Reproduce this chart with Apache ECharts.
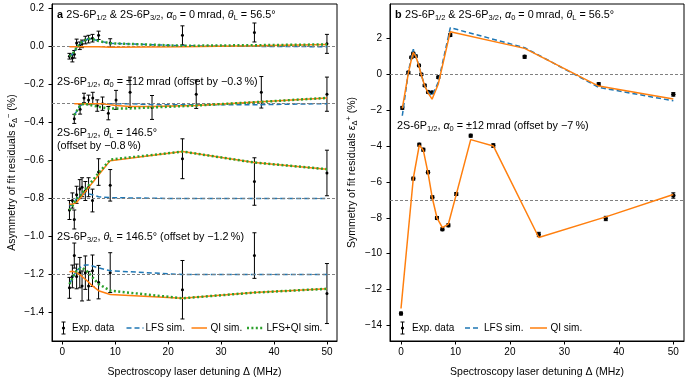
<!DOCTYPE html>
<html>
<head>
<meta charset="utf-8">
<script src="https://cdn.jsdelivr.net/npm/echarts@6/dist/echarts.min.js"></script>
<style>
html, body { margin: 0; padding: 0; background: #fff; }
#chart { width: 689px; height: 383px; }
</style>
</head>
<body>
<div id="chart"></div>
<script>
// detunings (MHz)
var detA = [1.35, 1.9, 2.26, 2.7, 3.3, 3.73, 4.35, 4.96, 5.7, 6.85, 9.05, 22.7, 36.3, 50];
var detA12 = [2.26, 3.36, 4.1, 4.96, 5.75, 6.6, 7.6, 8.7, 10.15, 12.8, 16.95, 25.3, 37.6, 50];
var detB0 = [0.24, 1.35, 1.9, 2.26, 2.7, 3.3, 3.73, 4.35, 4.96, 5.7, 6.85, 9.05, 22.7, 36.3, 50];
var detB12 = [0, 2.26, 3.36, 4.1, 4.96, 5.75, 6.6, 7.6, 8.7, 10.15, 12.8, 16.95, 25.3, 37.6, 50];

// panel a, alpha0 = 0 mrad
var a1Exp = [-0.05, -0.06, -0.04, 0.02, 0.005, 0.015, 0.035, 0.04, 0.045, 0.06, 0.02, 0.06, 0.075, 0.015];
var a1Err = [0.015, 0.02, 0.02, 0.02, 0.02, 0.02, 0.02, 0.02, 0.02, 0.022, 0.022, 0.05, 0.05, 0.05];
var a1Lfs = [-0.05, -0.04, -0.025, -0.005, 0.015, 0.025, 0.035, 0.042, 0.04, 0.03, 0.018, 0.005, 0.002, 0.0];
var a1Qi = [0.0, 0.0, 0.0, 0.0, 0.0, 0.0, 0.0, 0.0, 0.0, 0.0, -0.003, 0.0, 0.005, 0.012];
var a1Both = [-0.05, -0.04, -0.025, -0.005, 0.015, 0.025, 0.035, 0.042, 0.04, 0.03, 0.018, 0.005, 0.008, 0.012];

// panel a, alpha0 = +-12 mrad (offset -0.3 %)
var a2Exp = [-0.38, -0.33, -0.27, -0.28, -0.27, -0.31, -0.30, -0.35, -0.28, -0.24, -0.32, -0.25, -0.24, -0.25];
var a2Err = [0.024, 0.025, 0.025, 0.025, 0.03, 0.03, 0.035, 0.035, 0.05, 0.08, 0.063, 0.075, 0.083, 0.09];
var a2Lfs = [-0.36, -0.31, -0.30, -0.30, -0.30, -0.30, -0.30, -0.30, -0.30, -0.30, -0.305, -0.305, -0.305, -0.30];
var a2Qi = [-0.30, -0.30, -0.30, -0.30, -0.30, -0.30, -0.30, -0.305, -0.31, -0.315, -0.315, -0.31, -0.29, -0.27];
var a2Both = [-0.36, -0.31, -0.30, -0.305, -0.31, -0.315, -0.32, -0.325, -0.325, -0.325, -0.32, -0.31, -0.29, -0.27];

// panel a, 2S-6P1/2 theta 146.5 (offset -0.8 %)
var a3Exp = [-0.86, -0.81, -0.91, -0.78, -0.75, -0.74, -0.76, -0.74, -0.81, -0.66, -0.73, -0.59, -0.71, -0.665];
var a3Err = [0.05, 0.04, 0.05, 0.045, 0.05, 0.05, 0.05, 0.05, 0.06, 0.07, 0.083, 0.105, 0.125, 0.12];
var a3Lfs = [-0.84, -0.83, -0.82, -0.80, -0.785, -0.78, -0.775, -0.775, -0.78, -0.79, -0.795, -0.80, -0.80, -0.80];
var a3Qi = [-0.83, -0.83, -0.83, -0.82, -0.80, -0.785, -0.763, -0.742, -0.716, -0.676, -0.60, -0.552, -0.61, -0.645];
var a3Both = [-0.86, -0.84, -0.82, -0.80, -0.785, -0.77, -0.75, -0.73, -0.705, -0.665, -0.595, -0.552, -0.61, -0.645];

// panel a, 2S-6P3/2 theta 146.5 (offset -1.2 %)
var a4Exp = [-1.27, -1.21, -1.10, -1.21, -1.19, -1.26, -1.19, -1.26, -1.18, -1.24, -1.19, -1.28, -1.10, -1.30];
var a4Err = [0.055, 0.06, 0.066, 0.065, 0.08, 0.079, 0.088, 0.075, 0.083, 0.088, 0.105, 0.154, 0.12, 0.158];
var a4Lfs = [-1.25, -1.22, -1.20, -1.18, -1.165, -1.155, -1.15, -1.15, -1.155, -1.165, -1.18, -1.20, -1.20, -1.20];
var a4Qi = [-1.185, -1.183, -1.185, -1.19, -1.20, -1.21, -1.225, -1.24, -1.26, -1.285, -1.305, -1.325, -1.295, -1.275];
var a4Both = [-1.25, -1.22, -1.20, -1.18, -1.17, -1.165, -1.175, -1.19, -1.215, -1.25, -1.285, -1.325, -1.295, -1.275];

// panel b
var b0Exp = [-1.88, 0.09, 0.93, 1.15, 1.0, 0.48, -0.02, -0.63, -1.0, -1.02, -0.18, 2.17, 0.96, -0.56, -1.13];
var b0Err = [0.08, 0.06, 0.06, 0.06, 0.06, 0.06, 0.06, 0.06, 0.06, 0.06, 0.06, 0.08, 0.08, 0.08, 0.1];
var b0Lfs = [-2.32, 0.1, 0.95, 1.38, 1.05, 0.45, -0.05, -0.65, -1.0, -1.2, -0.45, 2.58, 1.47, -0.74, -1.49];
var b0Qi = [-1.91, 0.05, 0.8, 1.2, 1.0, 0.45, -0.05, -0.65, -1.05, -1.4, -0.55, 2.36, 1.43, -0.67, -1.39];
var b12Exp = [-13.33, -5.82, -3.93, -4.21, -5.47, -6.86, -8.01, -8.64, -8.42, -6.68, -3.43, -3.98, -8.93, -8.04, -6.76];
var b12Err = [0.08, 0.08, 0.08, 0.08, 0.08, 0.08, 0.08, 0.08, 0.08, 0.08, 0.08, 0.1, 0.12, 0.12, 0.15];
var b12Qi = [-13.05, -5.8, -3.95, -4.25, -5.5, -6.9, -8.0, -8.55, -8.35, -6.7, -3.65, -4.0, -9.1, -7.95, -6.7];

var refA = [0, -0.3, -0.8, -1.2];
var refB = [0, -7];
var ticksX = [0, 10, 20, 30, 40, 50];
var ticksA = [-1.4, -1.2, -1.0, -0.8, -0.6, -0.4, -0.2, 0.0, 0.2];
var ticksB = [-14, -12, -10, -8, -6, -4, -2, 0, 2];

var FONT = 'Liberation Sans, Arial, sans-serif';
var BLUE = '#1f77b4', ORANGE = '#ff7f0e', GREEN = '#2ca02c';

var chart = echarts.init(document.getElementById('chart'));

function pairs(xs, ys) {
    return xs.map(function (x, i) { return [x, ys[i]]; });
}

function errorBars(xs, ys, errs, gi, r) {
    return {
        type: 'custom',
        xAxisIndex: gi,
        yAxisIndex: gi,
        z: 3,
        silent: true,
        data: xs.map(function (x, i) { return [x, ys[i] - errs[i], ys[i] + errs[i], ys[i]]; }),
        encode: { x: 0, y: [1, 2] },
        renderItem: function (params, api) {
            var lo = api.coord([api.value(0), api.value(1)]);
            var hi = api.coord([api.value(0), api.value(2)]);
            var mid = api.coord([api.value(0), api.value(3)]);
            var st = { stroke: '#000', lineWidth: 1 };
            return {
                type: 'group',
                children: [
                    { type: 'line', shape: { x1: lo[0], y1: lo[1], x2: hi[0], y2: hi[1] }, style: st },
                    { type: 'line', shape: { x1: lo[0] - 2, y1: lo[1], x2: lo[0] + 2, y2: lo[1] }, style: st },
                    { type: 'line', shape: { x1: hi[0] - 2, y1: hi[1], x2: hi[0] + 2, y2: hi[1] }, style: st },
                    { type: 'circle', shape: { cx: mid[0], cy: mid[1], r: r }, style: { fill: '#000' } }
                ]
            };
        }
    };
}

function simLine(xs, ys, kind, gi) {
    var ls;
    if (kind === 'lfs') ls = { color: BLUE, width: 1.5, type: [5, 3] };
    else if (kind === 'qi') ls = { color: ORANGE, width: 1.5, type: 'solid' };
    else ls = { color: GREEN, width: 2.5, type: [2, 2.4] };
    return {
        type: 'line',
        xAxisIndex: gi,
        yAxisIndex: gi,
        data: pairs(xs, ys),
        symbol: 'none',
        silent: true,
        z: kind === 'lfs' ? 4 : (kind === 'qi' ? 5 : 6),
        lineStyle: ls
    };
}

function refLines(vals, gi) {
    return {
        type: 'line',
        xAxisIndex: gi,
        yAxisIndex: gi,
        data: [],
        z: 1,
        markLine: {
            silent: true,
            symbol: ['none', 'none'],
            animation: false,
            label: { show: false },
            lineStyle: { color: '#808080', type: [3, 2], width: 1 },
            data: vals.map(function (v) { return { yAxis: v }; })
        }
    };
}

var FS = 10.8;
var rich = {
    n: { fontFamily: FONT, fontSize: FS, color: '#000', lineHeight: 14 },
    b: { fontFamily: FONT, fontSize: FS, fontWeight: 'bold', color: '#000', lineHeight: 14 },
    i: { fontFamily: FONT, fontSize: FS, fontStyle: 'italic', color: '#000', lineHeight: 14 },
    s: { fontFamily: FONT, fontSize: 7.5, color: '#000', lineHeight: 8, verticalAlign: 'bottom' },
    p: { fontFamily: FONT, fontSize: 7.5, color: '#000', lineHeight: 8, verticalAlign: 'top' }
};
var richAxis = {
    n: { fontFamily: FONT, fontSize: 10.5, color: '#000', lineHeight: 14 },
    i: { fontFamily: FONT, fontSize: 10.5, fontStyle: 'italic', color: '#000', lineHeight: 14 },
    s: { fontFamily: FONT, fontSize: 7.5, color: '#000', lineHeight: 8, verticalAlign: 'bottom' },
    p: { fontFamily: FONT, fontSize: 7.5, color: '#000', lineHeight: 8, verticalAlign: 'top' }
};

function label(x, y, text) {
    return {
        type: 'text', x: x, y: y, silent: true,
        style: { text: text, rich: rich, verticalAlign: 'middle', align: 'left' }
    };
}

function legendText(x, y, text) {
    return {
        type: 'text', x: x, y: y, silent: true,
        style: { text: text, fontFamily: FONT, fontSize: 10, fill: '#000', verticalAlign: 'middle', align: 'left' }
    };
}

function errIcon(x, y) {
    var st = { stroke: '#000', lineWidth: 1 };
    return {
        type: 'group', silent: true, children: [
            { type: 'line', shape: { x1: x, y1: y - 6, x2: x, y2: y + 6 }, style: st },
            { type: 'line', shape: { x1: x - 2, y1: y - 6, x2: x + 2, y2: y - 6 }, style: st },
            { type: 'line', shape: { x1: x - 2, y1: y + 6, x2: x + 2, y2: y + 6 }, style: st },
            { type: 'circle', shape: { cx: x, cy: y, r: 1.6 }, style: { fill: '#000' } }
        ]
    };
}

function legendLine(x1, x2, y, kind) {
    var st;
    if (kind === 'lfs') st = { stroke: BLUE, lineWidth: 1.5, lineDash: [5, 3] };
    else if (kind === 'qi') st = { stroke: ORANGE, lineWidth: 1.5 };
    else st = { stroke: GREEN, lineWidth: 2.5, lineDash: [2, 2.4] };
    return { type: 'line', silent: true, shape: { x1: x1, y1: y, x2: x2, y2: y }, style: st };
}

function fmtA(v) {
    var s = Math.abs(v) < 1e-9 ? '0.0' : v.toFixed(1);
    return s.replace('-', '\u2212');
}
function fmtB(v) {
    return String(Math.round(v)).replace('-', '\u2212');
}

var axisCommon = {
    type: 'value',
    splitLine: { show: false },
    axisLine: { show: true, onZero: false, lineStyle: { color: '#000', width: 1 } },
    nameTextStyle: { fontFamily: FONT, fontSize: 10.5, color: '#000', rich: richAxis }
};

function xAxis(gi, min, max) {
    return Object.assign({}, axisCommon, {
        gridIndex: gi, min: min, max: max,
        name: 'Spectroscopy laser detuning \u0394 (MHz)',
        nameLocation: 'middle', nameGap: 26,
        axisTick: { show: true, length: 3.5, lineStyle: { color: '#000' }, customValues: ticksX },
        axisLabel: { customValues: ticksX, fontFamily: FONT, fontSize: 10, color: '#000', margin: 6 }
    });
}

var option = {
    animation: false,
    backgroundColor: '#fff',
    grid: [
        { left: 52, top: 4, width: 285, height: 337, show: true, borderColor: '#000', borderWidth: 1, backgroundColor: 'transparent' },
        { left: 390, top: 4, width: 294, height: 337, show: true, borderColor: '#000', borderWidth: 1, backgroundColor: 'transparent' }
    ],
    xAxis: [xAxis(0, -1.95, 51.9), xAxis(1, -2.02, 51.96)],
    yAxis: [
        Object.assign({}, axisCommon, {
            gridIndex: 0, min: -1.55, max: 0.225,
            name: '{n|Asymmetry of fit residuals }{i|\u03b5}{s|\u0394}{p|\u2212}{n| (%)}',
            nameLocation: 'middle', nameGap: 33, nameRotate: 90,
            axisTick: { show: true, length: 3.5, lineStyle: { color: '#000' }, customValues: ticksA },
            axisLabel: { customValues: ticksA, formatter: fmtA, fontFamily: FONT, fontSize: 10, color: '#000', margin: 8 }
        }),
        Object.assign({}, axisCommon, {
            gridIndex: 1, min: -14.86, max: 3.9,
            name: '{n|Symmetry of fit residuals }{i|\u03b5}{s|\u0394}{p|+}{n| (%)}',
            nameLocation: 'middle', nameGap: 31, nameRotate: 90,
            axisTick: { show: true, length: 3.5, lineStyle: { color: '#000' }, customValues: ticksB },
            axisLabel: { customValues: ticksB, formatter: fmtB, fontFamily: FONT, fontSize: 10, color: '#000', margin: 8 }
        })
    ],
    series: [
        refLines(refA, 0),
        refLines(refB, 1),
        errorBars(detA, a1Exp, a1Err, 0, 1.5),
        errorBars(detA12, a2Exp, a2Err, 0, 1.5),
        errorBars(detA, a3Exp, a3Err, 0, 1.5),
        errorBars(detA, a4Exp, a4Err, 0, 1.5),
        simLine(detA, a1Lfs, 'lfs', 0),
        simLine(detA, a1Qi, 'qi', 0),
        simLine(detA, a1Both, 'both', 0),
        simLine(detA12, a2Lfs, 'lfs', 0),
        simLine(detA12, a2Qi, 'qi', 0),
        simLine(detA12, a2Both, 'both', 0),
        simLine(detA, a3Lfs, 'lfs', 0),
        simLine(detA, a3Qi, 'qi', 0),
        simLine(detA, a3Both, 'both', 0),
        simLine(detA, a4Lfs, 'lfs', 0),
        simLine(detA, a4Qi, 'qi', 0),
        simLine(detA, a4Both, 'both', 0),
        errorBars(detB0, b0Exp, b0Err, 1, 2.2),
        errorBars(detB12, b12Exp, b12Err, 1, 2.2),
        simLine(detB0, b0Lfs, 'lfs', 1),
        simLine(detB0, b0Qi, 'qi', 1),
        simLine(detB12, b12Qi, 'qi', 1)
    ],
    graphic: [
        label(57, 15, '{b|a} {n|2S-6P}{s|1/2}{n| & 2S-6P}{s|3/2}{n|, }{i|\u03b1}{s|0}{n| = 0\u2009mrad, }{i|\u03b8}{s|L}{n| = 56.5\u00b0}'),
        label(57, 82, '{n|2S-6P}{s|1/2}{n|, }{i|\u03b1}{s|0}{n| = \u00b112\u2009mrad (offset by \u22120.3\u2009%)}'),
        label(57, 133, '{n|2S-6P}{s|1/2}{n|, }{i|\u03b8}{s|L}{n| = 146.5\u00b0}'),
        label(57, 146, '{n|(offset by \u22120.8\u2009%)}'),
        label(57, 237, '{n|2S-6P}{s|3/2}{n|, }{i|\u03b8}{s|L}{n| = 146.5\u00b0 (offset by \u22121.2\u2009%)}'),
        label(395, 15, '{b|b} {n|2S-6P}{s|1/2}{n| & 2S-6P}{s|3/2}{n|, }{i|\u03b1}{s|0}{n| = 0\u2009mrad, }{i|\u03b8}{s|L}{n| = 56.5\u00b0}'),
        label(397, 126, '{n|2S-6P}{s|1/2}{n|, }{i|\u03b1}{s|0}{n| = \u00b112\u2009mrad (offset by \u22127\u2009%)}'),

        errIcon(63.5, 328),
        legendText(72, 328, 'Exp. data'),
        legendLine(126.5, 143.5, 328, 'lfs'),
        legendText(145.5, 328, 'LFS sim.'),
        legendLine(191.5, 207, 328, 'qi'),
        legendText(210.5, 328, 'QI sim.'),
        legendLine(247, 263, 328, 'both'),
        legendText(266.5, 328, 'LFS+QI sim.'),

        errIcon(402.5, 328),
        legendText(412, 328, 'Exp. data'),
        legendLine(465, 480, 328, 'lfs'),
        legendText(484, 328, 'LFS sim.'),
        legendLine(530, 547, 328, 'qi'),
        legendText(550.5, 328, 'QI sim.')
    ]
};

chart.setOption(option);
</script>
</body>
</html>
